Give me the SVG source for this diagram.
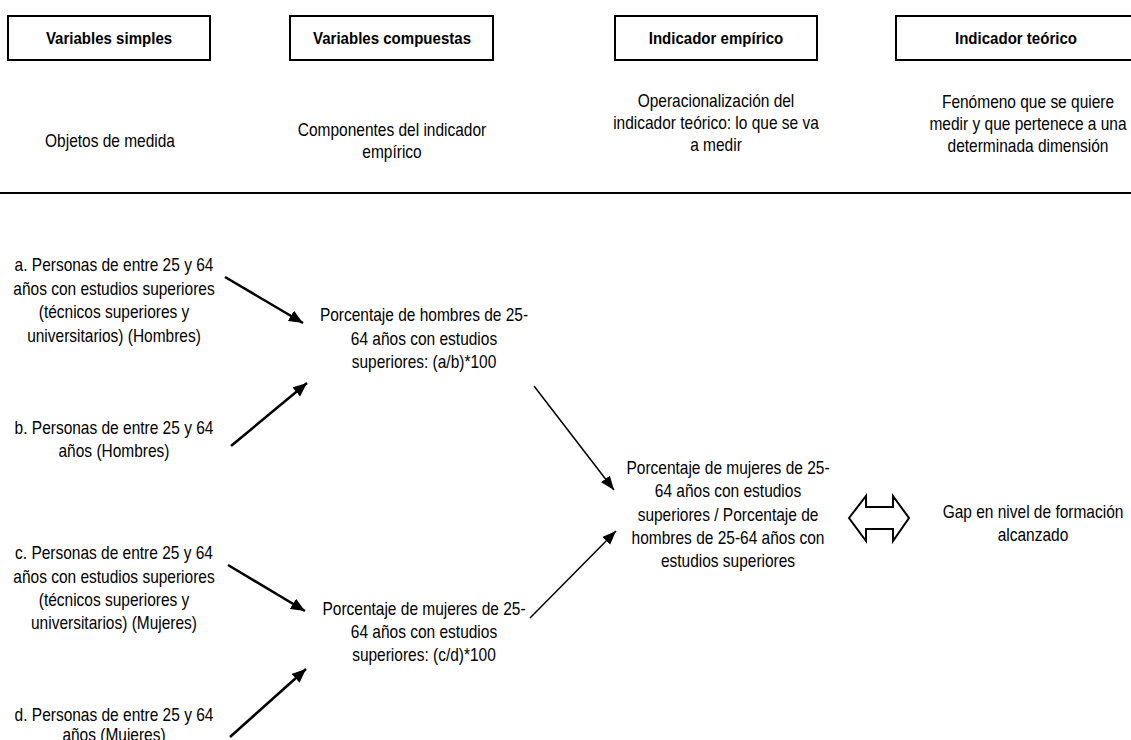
<svg xmlns="http://www.w3.org/2000/svg" width="1131" height="740" viewBox="0 0 1131 740">
<style>
text{font-family:"Liberation Sans",Arial,sans-serif;font-size:17.5px;fill:#000;text-anchor:middle}
.h{font-weight:bold;font-size:17px}
.box{fill:#fff;stroke:#000;stroke-width:2}
.thick{stroke:#000;stroke-width:2.5;fill:none;marker-end:url(#ah)}
.thin{stroke:#000;stroke-width:1.5;fill:none;marker-end:url(#ah2)}
</style>
<defs>
<marker id="ah" markerUnits="userSpaceOnUse" markerWidth="15" markerHeight="12" refX="14" refY="6" orient="auto"><path d="M0,0 L14,6 L0,12 z" fill="#000"/></marker>
<marker id="ah2" markerUnits="userSpaceOnUse" markerWidth="15" markerHeight="12" refX="14" refY="6" orient="auto"><path d="M0,0.5 L14,6 L0,11.5 z" fill="#000"/></marker>
</defs>
<rect width="1131" height="740" fill="#fff"/>
<g id="header1"><rect class="box" x="8" y="16" width="202" height="44"/><g transform="translate(109,0) scale(0.885,1)"><text class="h" x="0" y="44">Variables simples</text></g></g>
<g id="header2"><rect class="box" x="290" y="16" width="203" height="44"/><g transform="translate(392,0) scale(0.885,1)"><text class="h" x="0" y="44">Variables compuestas</text></g></g>
<g id="header3"><rect class="box" x="615" y="16" width="202" height="44"/><g transform="translate(716,0) scale(0.885,1)"><text class="h" x="0" y="44">Indicador empírico</text></g></g>
<g id="header4"><rect class="box" x="896" y="16" width="240" height="44"/><g transform="translate(1016,0) scale(0.885,1)"><text class="h" x="0" y="44">Indicador teórico</text></g></g>
<g id="desc1"><g transform="translate(110,0) scale(0.885,1)"><text x="0" y="147">Objetos de medida</text></g></g>
<g id="desc2"><g transform="translate(392,0) scale(0.885,1)"><text x="0" y="136">Componentes del indicador</text><text x="0" y="158">empírico</text></g></g>
<g id="desc3"><g transform="translate(716,0) scale(0.885,1)"><text x="0" y="107">Operacionalización del</text><text x="0" y="129">indicador teórico: lo que se va</text><text x="0" y="151">a medir</text></g></g>
<g id="desc4"><g transform="translate(1028,0) scale(0.885,1)"><text x="0" y="108">Fenómeno que se quiere</text><text x="0" y="130">medir y que pertenece a una</text><text x="0" y="152">determinada dimensión</text></g></g>
<line x1="0" y1="193" x2="1131" y2="193" stroke="#000" stroke-width="2"/>
<g id="a"><g transform="translate(114,0) scale(0.885,1)"><text x="0" y="271">a. Personas de entre 25 y 64</text><text x="0" y="295">años con estudios superiores</text><text x="0" y="318">(técnicos superiores y</text><text x="0" y="342">universitarios) (Hombres)</text></g></g>
<g id="b"><g transform="translate(114,0) scale(0.885,1)"><text x="0" y="434">b. Personas de entre 25 y 64</text><text x="0" y="457">años (Hombres)</text></g></g>
<g id="c"><g transform="translate(114,0) scale(0.885,1)"><text x="0" y="559">c. Personas de entre 25 y 64</text><text x="0" y="583">años con estudios superiores</text><text x="0" y="606">(técnicos superiores y</text><text x="0" y="629">universitarios) (Mujeres)</text></g></g>
<g id="d"><g transform="translate(114,0) scale(0.885,1)"><text x="0" y="721">d. Personas de entre 25 y 64</text><text x="0" y="741">años (Mujeres)</text></g></g>
<g id="pctH"><g transform="translate(424,0) scale(0.885,1)"><text x="0" y="321">Porcentaje de hombres de 25-</text><text x="0" y="345">64 años con estudios</text><text x="0" y="368">superiores: (a/b)*100</text></g></g>
<g id="pctM"><g transform="translate(424,0) scale(0.885,1)"><text x="0" y="615">Porcentaje de mujeres de 25-</text><text x="0" y="638">64 años con estudios</text><text x="0" y="661">superiores: (c/d)*100</text></g></g>
<g id="ratio"><g transform="translate(728,0) scale(0.885,1)"><text x="0" y="474">Porcentaje de mujeres de 25-</text><text x="0" y="497">64 años con estudios</text><text x="0" y="521">superiores / Porcentaje de</text><text x="0" y="544">hombres de 25-64 años con</text><text x="0" y="567">estudios superiores</text></g></g>
<g id="gap"><g transform="translate(1033,0) scale(0.885,1)"><text x="0" y="518">Gap en nivel de formación</text><text x="0" y="541">alcanzado</text></g></g>
<g id="connectors">
<line class="thick" x1="225" y1="277" x2="303" y2="323"/>
<line class="thick" x1="231" y1="446" x2="307" y2="383"/>
<line class="thick" x1="228" y1="565" x2="305" y2="611"/>
<line class="thick" x1="230" y1="737" x2="306" y2="669"/>
<line class="thin" x1="534" y1="386" x2="614" y2="490"/>
<line class="thin" x1="530" y1="618" x2="616" y2="531"/>
<polygon points="849,518 866,496 866,507 893,507 893,496 909,518 893,541 893,529 866,529 866,541" fill="#fff" stroke="#000" stroke-width="2"/>
</g>
</svg>
